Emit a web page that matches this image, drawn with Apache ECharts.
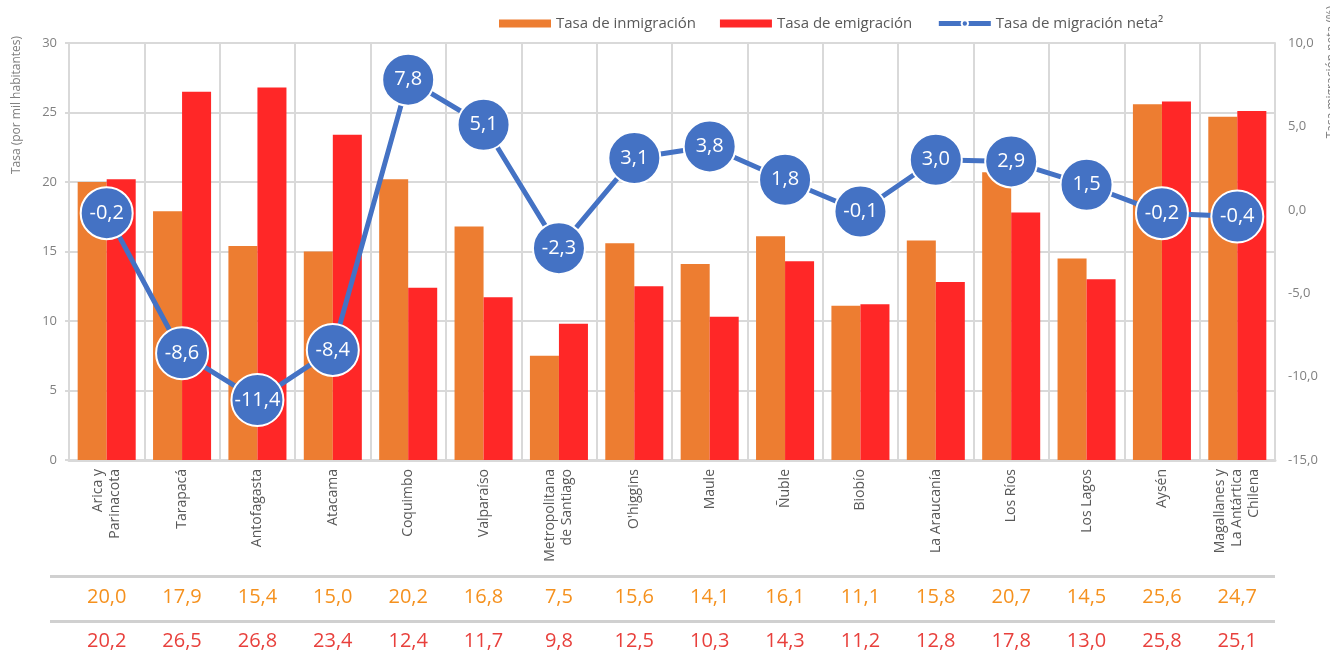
<!DOCTYPE html>
<html>
<head>
<meta charset="utf-8">
<script src="https://cdn.jsdelivr.net/npm/echarts@6/dist/echarts.min.js"></script>
<style>
  html, body { margin: 0; padding: 0; background: #fff; }
  #chart { width: 1330px; height: 660px; }
</style>
</head>
<body>
<div id="chart"></div>
<script>
// regiones
var regiones = ['Arica y\nParinacota', 'Tarapacá', 'Antofagasta', 'Atacama', 'Coquimbo', 'Valparaíso',
  'Metropolitana\nde Santiago', "O'higgins", 'Maule', 'Ñuble', 'Biobío', 'La Araucanía', 'Los Ríos',
  'Los Lagos', 'Aysén', 'Magallanes y\nLa Antártica\nChilena']
var inmigracion = [20.0, 17.9, 15.4, 15.0, 20.2, 16.8, 7.5, 15.6, 14.1, 16.1, 11.1, 15.8, 20.7, 14.5, 25.6, 24.7]
var emigracion = [20.2, 26.5, 26.8, 23.4, 12.4, 11.7, 9.8, 12.5, 10.3, 14.3, 11.2, 12.8, 17.8, 13.0, 25.8, 25.1]
var migracionNeta = [-0.2, -8.6, -11.4, -8.4, 7.8, 5.1, -2.3, 3.1, 3.8, 1.8, -0.1, 3.0, 2.9, 1.5, -0.2, -0.4]

const GRAY = '#d9d9d9'
const TXT = '#595959'

function fmt(v) {
  return v.toFixed(1).replace('.', ',')
}

var chart = echarts.init(document.getElementById('chart'))

var option = {
  textStyle: { fontFamily: 'Open Sans' },
  animation: false,
  legend: {
    top: 11,
    left: 494,
    itemWidth: 52,
    itemHeight: 8,
    itemGap: 24,
    textStyle: { color: TXT, fontSize: 15 },
    data: [
      { name: 'Tasa de inmigración', icon: 'rect' },
      { name: 'Tasa de emigración', icon: 'rect' },
      { name: 'Tasa de migración neta²', lineStyle: { width: 5 } }
    ]
  },
  grid: { left: 69, right: 55, top: 43, bottom: 200 },
  xAxis: [
    {
      type: 'category',
      data: regiones,
      axisLine: { lineStyle: { color: GRAY, width: 3 } },
      axisTick: { show: false },
      splitLine: { show: true, interval: 0, lineStyle: { color: GRAY, width: 2 } },
      axisLabel: { interval: 0, rotate: 90, color: TXT, fontSize: 14, lineHeight: 17, margin: 9 }
    },
    {
      type: 'category',
      data: regiones,
      position: 'bottom',
      offset: 137,
      axisLine: { show: false },
      axisTick: { show: false },
      axisLabel: {
        interval: 0, margin: 0, verticalAlign: 'middle', color: '#f5911e', fontSize: 20,
        formatter: function (v, i) { return fmt(inmigracion[i]) }
      }
    },
    {
      type: 'category',
      data: regiones,
      position: 'bottom',
      offset: 181,
      axisLine: { show: false },
      axisTick: { show: false },
      axisLabel: {
        interval: 0, margin: 0, verticalAlign: 'middle', color: '#e8403c', fontSize: 20,
        formatter: function (v, i) { return fmt(emigracion[i]) }
      }
    }
  ],
  yAxis: [
    {
      type: 'value',
      min: 0, max: 30, interval: 5,
      axisLine: { show: true, lineStyle: { color: GRAY, width: 2 } },
      axisTick: { show: true, length: 4, lineStyle: { color: GRAY, width: 2 } },
      splitLine: { lineStyle: { color: GRAY, width: 2 } },
      axisLabel: { color: '#808080', fontSize: 13, margin: 12 }
    },
    {
      type: 'value',
      min: -15, max: 10, interval: 5,
      axisLine: { show: true, lineStyle: { color: GRAY, width: 2 } },
      axisTick: { show: false },
      splitLine: { show: false },
      axisLabel: { color: '#808080', fontSize: 13, margin: 13, formatter: function (v) { return fmt(v) } }
    }
  ],
  graphic: [
    { type: 'rect', shape: { x: 50, y: 575, width: 1225, height: 3 }, style: { fill: '#d0d0d0' }, silent: true },
    { type: 'rect', shape: { x: 50, y: 620, width: 1225, height: 3 }, style: { fill: '#d0d0d0' }, silent: true },
    {
      type: 'text', x: 17, y: 105, rotation: Math.PI / 2,
      style: { text: 'Tasa (por mil habitantes)', fill: '#808080', font: '12px "Open Sans"', align: 'center', verticalAlign: 'middle' }
    },
    {
      type: 'text', x: 1332, y: 72, rotation: Math.PI / 2,
      style: { text: 'Tasa migración neta (%)', fill: '#808080', font: '12px "Open Sans"', align: 'center', verticalAlign: 'middle' }
    }
  ],
  series: [
    {
      name: 'Tasa de inmigración',
      type: 'bar',
      data: inmigracion,
      barGap: '0%',
      barCategoryGap: '23%',
      itemStyle: { color: '#ED7D31' }
    },
    {
      name: 'Tasa de emigración',
      type: 'bar',
      data: emigracion,
      itemStyle: { color: '#FF2727' }
    },
    {
      name: 'Tasa de migración neta²',
      type: 'line',
      yAxisIndex: 1,
      data: migracionNeta,
      symbol: 'circle',
      symbolSize: 52,
      z: 5,
      lineStyle: { color: '#4472C4', width: 5 },
      itemStyle: { color: '#4472C4', borderColor: '#fff', borderWidth: 2 },
      label: {
        show: true, position: 'inside', color: '#fff', fontSize: 20,
        formatter: function (p) { return fmt(p.value) }
      }
    }
  ]
}

chart.setOption(option)
</script>
</body>
</html>
